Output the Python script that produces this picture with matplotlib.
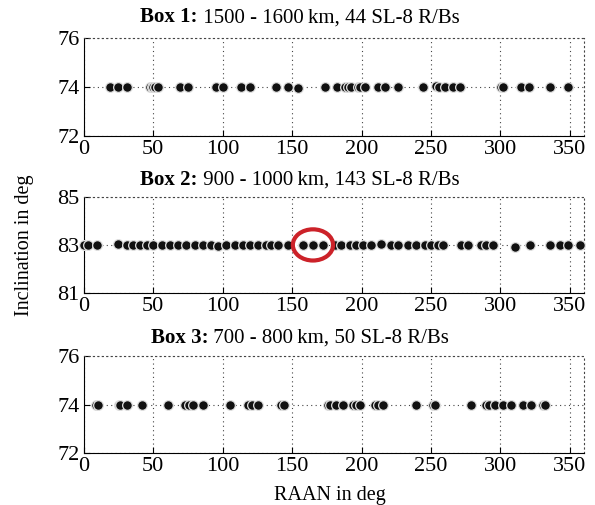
import matplotlib
matplotlib.use('Agg')
import matplotlib.pyplot as plt
from matplotlib.patches import Ellipse

plt.rcParams['font.family'] = ['Liberation Serif', 'DejaVu Serif']

# RAAN (deg) und Inklination (deg) je Box
raan1 = [18.7, 24.7, 30.7, 47.5, 49, 50, 51.5, 53.5, 69, 75, 95.5, 100.3, 113.5, 119.5,
         138.7, 147, 154.3, 173.5, 182, 187.9, 190, 192.7, 197.5, 199, 202.3, 211.9, 216.7,
         226.3, 244.3, 253.9, 256, 259.9, 265.9, 270.7, 300.7, 302, 315.1, 320.6, 335.5, 348.7]
inc1 = [74.0] * len(raan1)
inc1[16] = 73.95
inc1[25] = 73.98
inc1[29] = 74.05

raan2 = [0, 3.1, 9.1, 24.7, 30.7, 35.5, 40.3, 45.1, 49.9, 55.9, 61.9, 67.9, 73.9, 79.9,
         85.9, 91.9, 96.7, 102.7, 108.7, 114.7, 119.5, 125.5, 131.5, 135.1, 139.9, 147.1,
         157.9, 165.1, 172.3, 180.7, 185.5, 191.5, 196.3, 201.1, 207.1, 214.3, 221.5, 226.3,
         233.5, 239.5, 245.5, 250.3, 255.1, 258.7, 271.9, 276.7, 286.3, 289.9, 294.7, 310.3,
         321.1, 335.5, 342.7, 348.7, 357.1]
inc2 = [83.0] * len(raan2)
inc2[3] = 83.05
inc2[16] = 82.95
inc2[35] = 83.05
inc2[49] = 82.9

raan3 = [9, 10.3, 25, 25.9, 30.7, 41.5, 60.7, 72.7, 75.5, 78.7, 85.9, 105.1, 118.3, 121,
         125.5, 142.3, 144, 175.9, 177.1, 181.9, 186.7, 193.9, 196, 198.7, 209.5, 212, 215.5,
         239, 251.5, 253, 279.1, 289.9, 292, 295.9, 301.9, 307.9, 316.3, 322.3, 330.7, 332]
inc3 = [74.0] * len(raan3)
inc3[3] = 73.97
inc3[11] = 73.97

title_bold = ['Box 1:', 'Box 2:', 'Box 3:']
title_rest = ['1500 - 1600\u2009km, 44 SL-8 R/Bs',
              '900 - 1000\u2009km, 143 SL-8 R/Bs',
              '700 - 800\u2009km, 50 SL-8 R/Bs']
yticks = [[72, 74, 76], [81, 83, 85], [72, 74, 76]]
xticks = list(range(0, 351, 50))

fig = plt.figure(figsize=(5.95, 5.05), dpi=100)
# [left, bottom, width, height]
rects = [[0.141, 0.731, 0.840, 0.194],
         [0.141, 0.420, 0.840, 0.190],
         [0.141, 0.103, 0.840, 0.192]]
title_y = [0.956, 0.634, 0.321]

data = [(raan1, inc1), (raan2, inc2), (raan3, inc3)]
axes = []
renderer = fig.canvas.get_renderer()
W = fig.bbox.width
for i in range(3):
    ax = fig.add_axes(rects[i])
    x, y = data[i]
    ax.plot(x, y, 'o', ms=7, mfc='#111111', mec='#e0e0e0', mew=0.9, zorder=3,
            clip_on=False)
    ax.set_xlim(0, 360)
    ax.set_ylim(yticks[i][0], yticks[i][-1])
    ax.set_xticks(xticks)
    ax.set_yticks(yticks[i])
    ax.grid(True, linestyle=(0, (1, 3)), color='#444444', linewidth=0.8)
    for s in ['top', 'right']:
        ax.spines[s].set_linestyle((0, (1, 3)))
        ax.spines[s].set_color('#444444')
        ax.spines[s].set_linewidth(0.8)
    ax.tick_params(direction='in', length=4, labelsize=16, pad=3)

    # Titel: fetter Teil + normaler Teil, zusammen zentriert
    t1 = fig.text(0, title_y[i], title_bold[i], ha='left', va='baseline',
                  fontsize=15, fontweight='bold')
    t2 = fig.text(0, title_y[i], ' ' + title_rest[i], ha='left', va='baseline',
                  fontsize=15)
    w1 = t1.get_window_extent(renderer).width
    w2 = t2.get_window_extent(renderer).width
    x0 = 300 - (w1 + w2) / 2
    t1.set_x(x0 / W)
    t2.set_x((x0 + w1) / W)
    axes.append(ax)

# markierte Gruppe in Box 2
ell = Ellipse((165, 83), 29, 1.3, fill=False, edgecolor='#cc2229', linewidth=3, zorder=4)
axes[1].add_patch(ell)

axes[1].set_ylabel('Inclination in deg', fontsize=14.5, labelpad=17)
fig.text(0.555, 0.0, 'RAAN in deg', ha='center', va='bottom', fontsize=14.5)

plt.savefig('out.png', dpi=100)
